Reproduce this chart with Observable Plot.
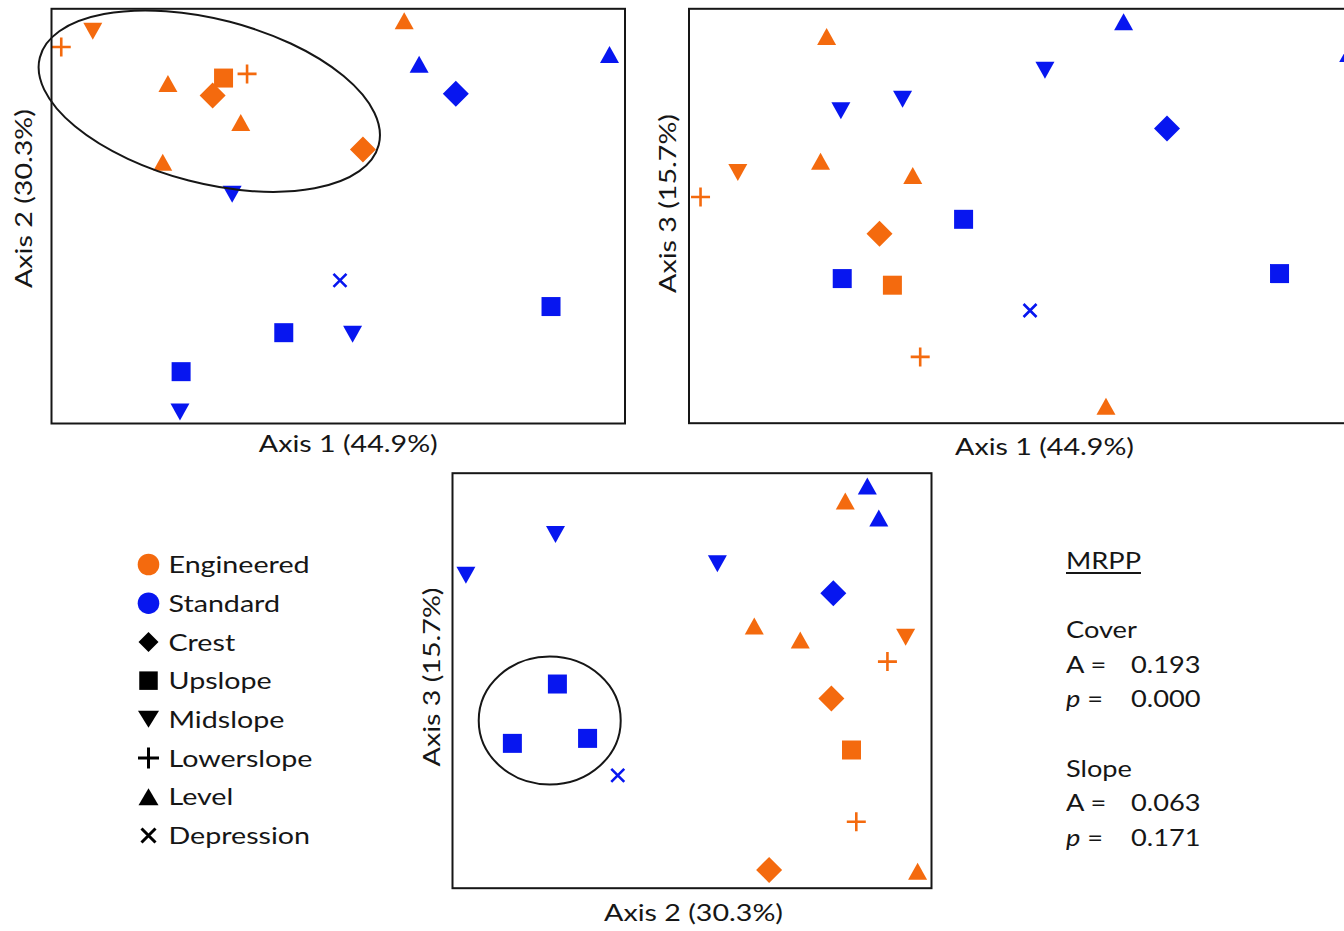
<!DOCTYPE html>
<html>
<head>
<meta charset="utf-8">
<script src="https://cdn.jsdelivr.net/npm/d3@7"></script>
<script src="https://cdn.jsdelivr.net/npm/@observablehq/plot@0.6"></script>
<style>
  html, body { margin: 0; padding: 0; background: #fff; overflow: hidden; }
  #figure { position: relative; width: 1344px; height: 931px; overflow: hidden; font-family: Lato, sans-serif; color: #111; }
  .block { position: absolute; }
  #mrpp { position: absolute; left: 1066px; top: 543px; font-size: 24px; line-height: 34.6px; transform-origin: 0 0; white-space: nowrap; color: #161616; }
  #mrpp .row { height: 34.6px; }
  #mrpp .lab { display: inline-block; }
  #mrpp .title { text-decoration: underline; text-decoration-thickness: 1.5px; text-underline-offset: 3px; }
</style>
</head>
<body>
<div id="figure"></div>
<script>
// ---------------- data (ordination scores) ----------------
const siteGroup = ["Engineered","Engineered","Engineered","Standard","Standard","Engineered","Engineered","Engineered","Engineered","Engineered",
                   "Standard","Engineered","Engineered","Standard","Standard","Standard","Standard","Standard","Standard","Standard"];
const sitePosition = ["Lowerslope","Midslope","Level","Level","Level","Upslope","Lowerslope","Level","Crest","Level",
                      "Crest","Crest","Level","Midslope","Depression","Upslope","Upslope","Midslope","Upslope","Midslope"];
const axis1 = [1.7, 7.2, 61.5, 64.1, 97.3, 30.0, 34.1, 20.3, 28.1, 33.0, 70.5, 54.3, 19.4, 31.5, 50.3, 87.1, 40.5, 52.5, 22.6, 22.4];
const axis2 = [90.8, 94.6, 97.1, 86.6, 89.0, 83.3, 84.3, 82.0, 79.1, 72.6, 79.5, 66.1, 63.0, 55.3, 34.5, 28.2, 21.9, 21.5, 12.5, 2.8];
const axis3 = [54.6, 60.5, 4.1, 96.9, 89.2, 33.3, 16.0, 93.3, 45.7, 59.8, 71.1, 4.4, 63.2, 78.2, 27.2, 36.1, 49.2, 85.2, 34.9, 75.4];
// the figure's Axis 1 x Axis 3 panel does not show site 12
const shownInAxis1vs3 = [true,true,true,true,true,true,true,true,true,true,true,false,true,true,true,true,true,true,true,true];

const axisTitles = ["Axis 1 (44.9%)", "Axis 2 (30.3%)", "Axis 3 (15.7%)"];
const groups = ["Engineered", "Standard"];
const positions = ["Crest", "Upslope", "Midslope", "Lowerslope", "Level", "Depression"];

// centres of the drawn groupings
const engineeredEllipse = {axis1: 27.6, axis2: 77.6};
const standardUpslopeCircle = {axis2: 20.4, axis3: 40.3};

// MRPP results
const mrppTests = ["Cover", "Slope"];
const mrppA = [0.193, 0.063];
const mrppP = [0.000, 0.171];

// ---------------- styling ----------------
const ORANGE = "#f46a0e", BLUE = "#0716f0", INK = "#161616";
const FONT = 24;

const mk = {
  diamond: d => ({draw(c) { const h = d / 2; c.moveTo(0, -h); c.lineTo(h, 0); c.lineTo(0, h); c.lineTo(-h, 0); c.closePath(); }}),
  square: d => ({draw(c) { const h = d / 2; c.moveTo(-h, -h); c.lineTo(h, -h); c.lineTo(h, h); c.lineTo(-h, h); c.closePath(); }}),
  up: (w, h) => ({draw(c) { c.moveTo(0, -h / 2); c.lineTo(w / 2, h / 2); c.lineTo(-w / 2, h / 2); c.closePath(); }}),
  down: (w, h) => ({draw(c) { c.moveTo(0, h / 2); c.lineTo(w / 2, -h / 2); c.lineTo(-w / 2, -h / 2); c.closePath(); }}),
  plus: d => ({draw(c) { const h = d / 2; c.moveTo(-h, 0); c.lineTo(h, 0); c.moveTo(0, -h); c.lineTo(0, h); }}),
  times: d => ({draw(c) { const h = d / 2; c.moveTo(-h, -h); c.lineTo(h, h); c.moveTo(h, -h); c.lineTo(-h, h); }})
};
const dataSymbol = {
  Crest: mk.diamond(26), Upslope: mk.square(19), Midslope: mk.down(19, 17),
  Lowerslope: mk.plus(19), Level: mk.up(19, 17), Depression: mk.times(13)
};
const legendSymbol = {
  Crest: mk.diamond(20), Upslope: mk.square(18.5), Midslope: mk.down(21, 17),
  Lowerslope: mk.plus(21), Level: mk.up(20, 17), Depression: mk.times(14)
};
const strokeShapes = new Set(["Lowerslope", "Depression"]);
const drawOrder = ["Level", "Midslope", "Upslope", "Crest", "Lowerslope", "Depression"];

const sites = axis1.map((_, i) => ({
  group: siteGroup[i], position: sitePosition[i],
  axis1: axis1[i], axis2: axis2[i], axis3: axis3[i], inAxis13: shownInAxis1vs3[i]
}));

function siteDots(data, xk, yk) {
  return drawOrder.map(pos => {
    const rows = data.filter(d => d.position === pos);
    const s = strokeShapes.has(pos);
    return Plot.dot(rows, {
      x: xk, y: yk, r: 10, symbol: dataSymbol[pos],
      fill: s ? "none" : "group", stroke: s ? "group" : "none", strokeWidth: s ? 2.6 : 0
    });
  });
}

function ring(center, xk, yk, rx, ry, angle) {
  return (index, scales) => {
    const cx = scales.x(center[xk]), cy = scales.y(center[yk]);
    return d3.create("svg:ellipse")
      .attr("cx", cx).attr("cy", cy).attr("rx", rx).attr("ry", ry)
      .attr("transform", `rotate(${angle},${cx},${cy})`)
      .attr("fill", "none").attr("stroke", INK).attr("stroke-width", 2)
      .node();
  };
}

function panel(o) {
  const labelStyle = {text: d => d, textAnchor: "middle", lineAnchor: "middle", fontSize: FONT, fill: INK};
  return Plot.plot({
    width: o.width, height: o.height,
    marginLeft: o.m[0], marginTop: o.m[1], marginRight: o.m[2], marginBottom: o.m[3],
    style: {fontFamily: "Lato", background: "transparent", maxWidth: "none", overflow: "visible"},
    x: {domain: [0, 100], axis: null},
    y: {domain: [0, 100], axis: null},
    color: {domain: groups, range: [ORANGE, BLUE]},
    marks: [
      ...siteDots(o.data, o.xk, o.yk),
      ...(o.extra || []),
      Plot.frame({stroke: INK, strokeWidth: 2}),
      Plot.text([o.xLabel], {...labelStyle, frameAnchor: "bottom", dx: o.xl[0], dy: o.xl[1]}),
      Plot.text([o.yLabel], {...labelStyle, frameAnchor: "left", rotate: -90, dx: o.yl[0], dy: o.yl[1]})
    ]
  });
}

const fig = d3.select("#figure");
function place(node, left, top, width, height) {
  fig.append("div").attr("class", "block")
    .style("left", left + "px").style("top", top + "px")
    .style("width", width + "px").style("height", height + "px")
    .node().appendChild(node);
}

// Axis 1 vs Axis 2
place(panel({
  width: 650, height: 470, m: [51, 8.3, 25.5, 47],
  data: sites, xk: "axis1", yk: "axis2",
  xLabel: axisTitles[0], yLabel: axisTitles[1],
  xl: [10, 21.3], yl: [-27, -17.6],
  extra: [ring(engineeredEllipse, "axis1", "axis2", 175, 82, 14.5)]
}), 0, 0, 650, 470);

// Axis 1 vs Axis 3
place(panel({
  width: 750, height: 470, m: [38.5, 8.3, 33.5, 47.3],
  data: sites.filter(d => d.inAxis13), xk: "axis1", yk: "axis3",
  xLabel: axisTitles[0], yLabel: axisTitles[2],
  xl: [16.5, 24.6], yl: [-21, -12.5]
}), 650, 0, 750, 470);

// Axis 2 vs Axis 3
place(panel({
  width: 580, height: 480, m: [72, 12.7, 29, 52.3],
  data: sites, xk: "axis2", yk: "axis3",
  xLabel: axisTitles[1], yLabel: axisTitles[2],
  xl: [1.5, 25.6], yl: [-20, -3.7],
  extra: [ring(standardUpslopeCircle, "axis2", "axis3", 71, 64, 0)]
}), 380, 460, 580, 480);

// Legend
const legendRows = [...groups, ...positions];
const legend = Plot.plot({
  width: 260, height: 330, marginLeft: 48, marginRight: 0, marginTop: 0, marginBottom: 0,
  style: {fontFamily: "Lato", background: "transparent", maxWidth: "none", overflow: "visible"},
  y: {domain: [0, legendRows.length - 1], range: [24, 295], axis: null},
  color: {domain: groups, range: [ORANGE, BLUE]},
  marks: [
    Plot.dot(groups, {y: d => legendRows.indexOf(d), fill: d => d, r: 10.8, symbol: "circle", frameAnchor: "left"}),
    ...positions.map(pos => {
      const s = strokeShapes.has(pos);
      return Plot.dot([pos], {
        y: d => legendRows.indexOf(d), frameAnchor: "left", r: 9, symbol: legendSymbol[pos],
        fill: s ? "none" : "#000", stroke: s ? "#000" : "none", strokeWidth: s ? 3 : 0
      });
    }),
    Plot.text(legendRows, {y: d => legendRows.indexOf(d), text: d => d, frameAnchor: "left", dx: 20, dy: 1,
      textAnchor: "start", lineAnchor: "middle", fontSize: FONT, fill: INK})
  ]
});
place(legend, 100, 540, 260, 330);

// horizontal stretch of the lettering, as in the figure
const probe = fig.append("svg").attr("width", 10).attr("height", 10).style("position", "absolute");
const probeText = probe.append("text").attr("font-family", "Lato").attr("font-size", FONT).text(axisTitles[0]);
const k = 179 / probeText.node().getComputedTextLength();
probe.remove();
fig.selectAll("svg text").each(function () {
  const L = this.getComputedTextLength();
  this.setAttribute("textLength", L * k);
  this.setAttribute("lengthAdjust", "spacingAndGlyphs");
});

// MRPP block
const fmt = d3.format(".3f");
const km = k * 0.95;
const mrpp = fig.append("div").attr("id", "mrpp").style("transform", `scaleX(${km})`);
mrpp.append("div").attr("class", "row").append("span").attr("class", "title").text("MRPP");
mrppTests.forEach((name, i) => {
  mrpp.append("div").attr("class", "row").html("&nbsp;");
  mrpp.append("div").attr("class", "row").text(name);
  const ra = mrpp.append("div").attr("class", "row");
  ra.append("span").attr("class", "lab").style("width", (65 / km) + "px").text("A =");
  ra.append("span").text(fmt(mrppA[i]));
  const rp = mrpp.append("div").attr("class", "row");
  const lp = rp.append("span").attr("class", "lab").style("width", (65 / km) + "px");
  lp.append("i").text("p");
  lp.append("span").text(" =");
  rp.append("span").text(fmt(mrppP[i]));
});
</script>
</body>
</html>
